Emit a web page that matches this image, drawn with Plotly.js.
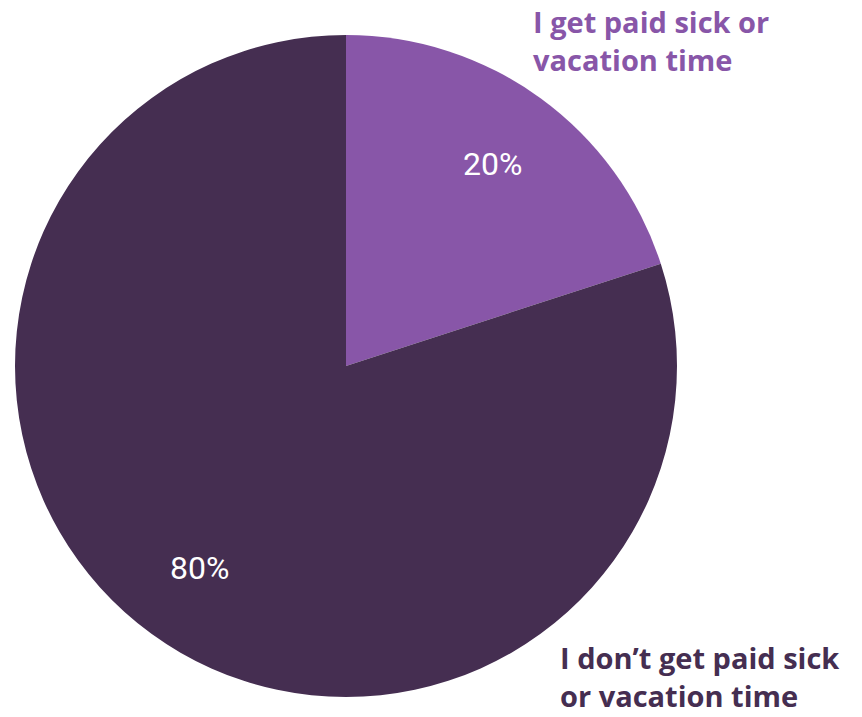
<!DOCTYPE html>
<html>
<head>
<meta charset="utf-8">
<script src="https://cdn.plot.ly/plotly-3.0.1.min.js"></script>
<style>html,body{margin:0;padding:0;background:#fff;}#chart{width:862px;height:717px;}</style>
</head>
<body>
<div id="chart"></div>
<script>
const labels = ["I get paid sick or vacation time", "I don’t get paid sick or vacation time"];
const values = [20, 80];
const colors = ["#8856a8", "#452e51"];
const labelLines = [["I get paid sick or", "vacation time"], ["I don’t get paid sick", "or vacation time"]];

const W = 862, H = 717;
const cxPx = 346, cyPx = 366, R = 331;

const trace = {
  type: "pie",
  labels: labels,
  values: values,
  sort: false,
  direction: "clockwise",
  rotation: 0,
  marker: {colors: colors, line: {width: 0}},
  textinfo: "none",
  showlegend: false,
  hoverinfo: "label+percent",
  domain: {x: [(cxPx - R)/W, (cxPx + R)/W], y: [(H - cyPx - R)/H, (H - cyPx + R)/H]}
};

const annotations = [];
// percentage labels at 0.755 radius along each slice's mid-angle
const total = values.reduce((a, b) => a + b, 0);
let cum = 0;
values.forEach((v, i) => {
  const mid = (cum + v / 2) / total * 2 * Math.PI;
  cum += v;
  const px = cxPx + 0.755 * R * Math.sin(mid);
  const py = cyPx - 0.755 * R * Math.cos(mid);
  annotations.push({
    text: Math.round(v / total * 100) + "%",
    x: px / W, y: 1 - py / H, xref: "paper", yref: "paper",
    xanchor: "center", yanchor: "middle", showarrow: false,
    font: {family: "Roboto, sans-serif", size: 32, color: "#ffffff"}
  });
});

// outside category labels
annotations.push({
  text: labelLines[0].join("<br>"), x: 531 / W, y: 1, xref: "paper", yref: "paper",
  xanchor: "left", yanchor: "top", align: "left", showarrow: false,
  font: {family: "'Open Sans', Lato, sans-serif", size: 29, color: colors[0], weight: 700}
});
annotations.push({
  text: labelLines[1].join("<br>"), x: 558 / W, y: 0, xref: "paper", yref: "paper",
  xanchor: "left", yanchor: "bottom", align: "left", showarrow: false,
  font: {family: "'Open Sans', Lato, sans-serif", size: 29, color: colors[1], weight: 700}
});

const layout = {
  width: W, height: H,
  margin: {l: 0, r: 0, t: 0, b: 0},
  paper_bgcolor: "#ffffff",
  showlegend: false,
  annotations: annotations
};

Plotly.newPlot("chart", [trace], layout, {displayModeBar: false});
</script>
</body>
</html>
